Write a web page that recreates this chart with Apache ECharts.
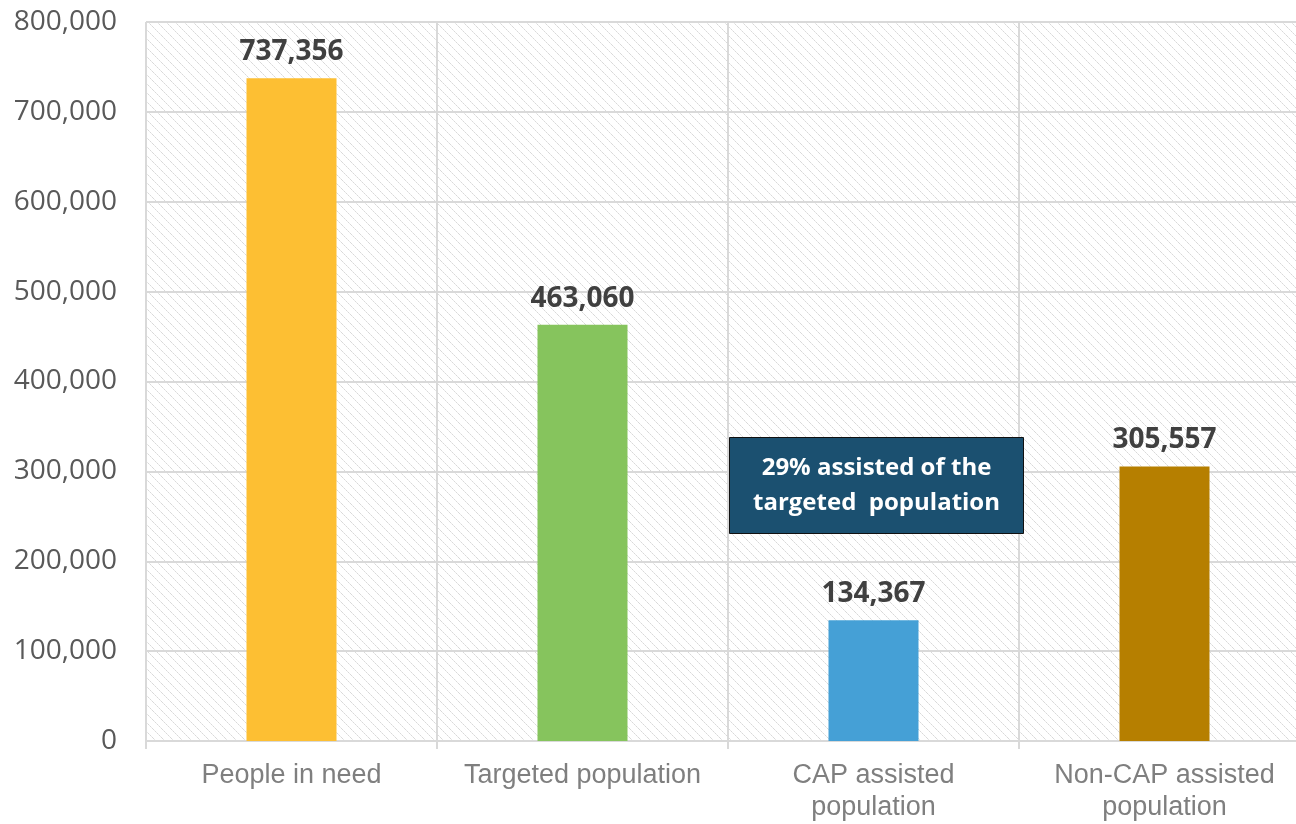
<!DOCTYPE html>
<html>
<head>
<meta charset="utf-8">
<script src="https://cdn.jsdelivr.net/npm/echarts@6/dist/echarts.min.js"></script>
<style>
  html, body { margin: 0; padding: 0; background: #fff; overflow: hidden; width: 1296px; height: 824px; }
  /* the plot runs a little past the right edge in the original */
  #chart { width: 1312px; height: 824px; }
</style>
</head>
<body>
<div id="chart"></div>
<script>
// categories and values
var categories = ['People in need', 'Targeted population', 'CAP assisted\npopulation', 'Non-CAP assisted\npopulation'];
var values = [737356, 463060, 134367, 305557];
var barColors = ['#FDBF33', '#86C45D', '#45A0D6', '#B67F00'];
var yTicks = [0, 100000, 200000, 300000, 400000, 500000, 600000, 700000, 800000];
var noteText = '29% assisted of the\ntargeted  population';

// diagonal dotted hatch for the plot background
function makeHatch() {
  var c = document.createElement('canvas');
  c.width = 9; c.height = 9;
  var ctx = c.getContext('2d');
  ctx.fillStyle = '#ffffff';
  ctx.fillRect(0, 0, 9, 9);
  for (var i = 0; i < 9; i++) {
    ctx.fillStyle = i % 2 ? '#e8e8e8' : '#d9d9d9';
    ctx.fillRect(i, i, 1, 1);
  }
  return c;
}

function fmt(v) {
  return v.toString().replace(/\B(?=(\d{3})+(?!\d))/g, ',');
}

var chart = echarts.init(document.getElementById('chart'));
chart.setOption({
  animation: false,
  grid: {
    left: 146,
    top: 22,
    bottom: 83,
    right: 2,
    show: true,
    borderWidth: 0,
    backgroundColor: { image: makeHatch(), repeat: 'repeat' }
  },
  xAxis: {
    type: 'category',
    data: categories,
    axisLine: { lineStyle: { color: '#d9d9d9', width: 2 } },
    axisTick: { show: true, length: 8, lineStyle: { color: '#d9d9d9', width: 2 } },
    splitLine: { show: true, lineStyle: { color: '#d9d9d9', width: 2 } },
    axisLabel: {
      interval: 0,
      margin: 19,
      color: '#7f7f7f',
      fontFamily: 'Liberation Sans',
      fontSize: 27,
      lineHeight: 32
    }
  },
  yAxis: {
    type: 'value',
    min: yTicks[0],
    max: yTicks[yTicks.length - 1],
    interval: 100000,
    axisLine: { show: false },
    axisTick: { show: false },
    splitLine: { lineStyle: { color: '#d9d9d9', width: 2 } },
    axisLabel: {
      margin: 29,
      color: '#595959',
      fontFamily: 'Open Sans',
      fontSize: 28,
      formatter: function (v) { return fmt(v); }
    }
  },
  series: [{
    type: 'bar',
    barWidth: 90,
    data: values.map(function (v, i) {
      return { value: v, itemStyle: { color: barColors[i] } };
    }),
    label: {
      show: true,
      position: 'top',
      distance: 12,
      color: '#404040',
      fontFamily: 'Open Sans',
      fontWeight: 'bold',
      fontSize: 28,
      formatter: function (p) { return fmt(p.value); }
    }
  }],
  graphic: [{
    type: 'group',
    left: 729,
    top: 437,
    z: 100,
    children: [{
      type: 'rect',
      z: 100,
      shape: { x: 0, y: 0, width: 294, height: 96 },
      style: { fill: '#1B5070', stroke: '#111', lineWidth: 1 }
    }, {
      type: 'text',
      z: 101,
      x: 147,
      y: 48,
      style: {
        text: noteText,
        fill: '#ffffff',
        font: 'bold 24px "Open Sans"',
        lineHeight: 35,
        align: 'center',
        verticalAlign: 'middle'
      }
    }]
  }]
});
</script>
</body>
</html>
